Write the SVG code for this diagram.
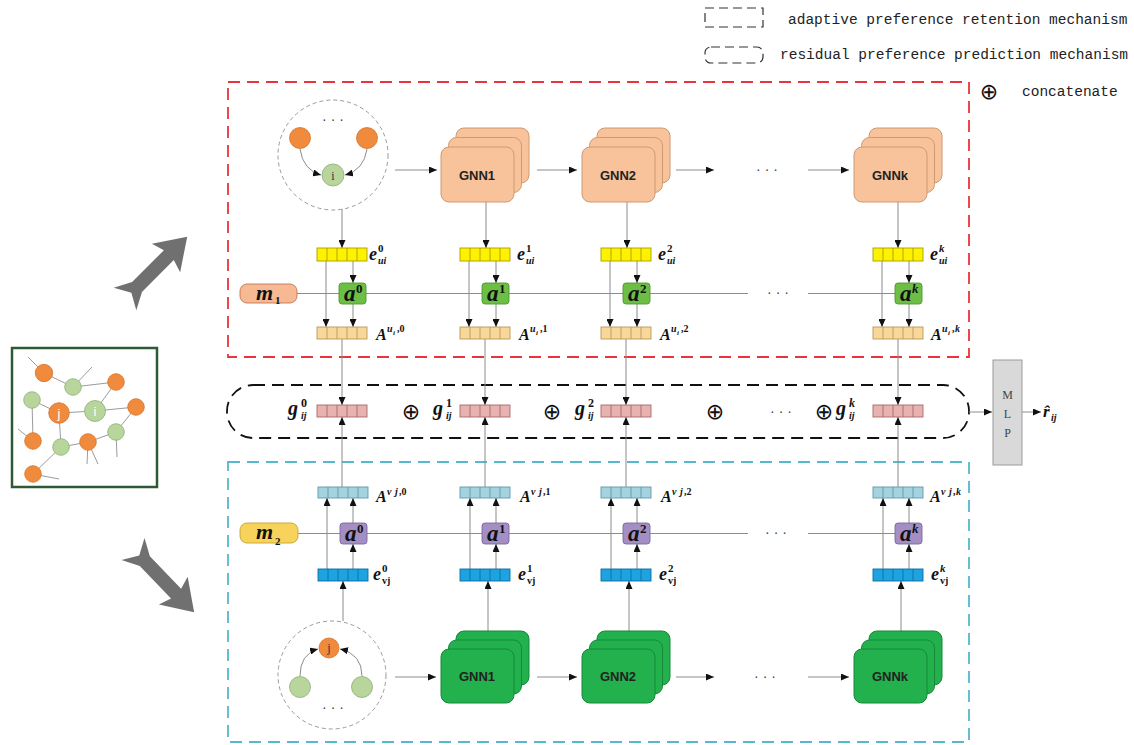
<svg xmlns="http://www.w3.org/2000/svg" width="1134" height="745" viewBox="0 0 1134 745">
<style>
.cn{fill:none;stroke:#8c8c8c;stroke-width:1}
.ar{marker-end:url(#ah)}
.dsh{fill:none;stroke-width:1.8;stroke-dasharray:12 7}
.leg{fill:none;stroke:#333;stroke-width:1.2;stroke-dasharray:9 5}
.lt{font-family:"Liberation Mono","Courier New",monospace;font-size:14.5px;fill:#222}
.op{font-family:"DejaVu Sans",sans-serif;font-size:22px;text-anchor:middle;fill:#111}
.dots{font-family:"Liberation Sans",Arial,sans-serif;font-size:14px;text-anchor:middle;fill:#444}
.mt{font-family:"Liberation Serif","Times New Roman",serif;font-weight:bold;font-style:italic;fill:#111;stroke:none}
.up{font-style:normal}
.vec rect{stroke-width:0.9}
.eu rect{fill:#FFF200}.eu{stroke:#A99C00}
.au rect{fill:#F7D79A}.au{stroke:#B99858}
.gg rect{fill:#E8B2B0}.gg{stroke:#A46C6A}
.av rect{fill:#A4D3DF}.av{stroke:#5E9AAA}
.ev rect{fill:#1DA3E2}.ev{stroke:#0D6E9E}
.aT{fill:#6CBE45;stroke:#4F9A2E;stroke-width:0.9}
.aB{fill:#A48FC4;stroke:#7A66A0;stroke-width:0.9}
.gT rect{fill:#F8C39B;stroke:#CE9A72;stroke-width:1}
.gB rect{fill:#22B14C;stroke:#15893A;stroke-width:1}
.gt{font-family:"Liberation Sans",Arial,sans-serif;font-weight:bold;font-size:13px;text-anchor:middle;fill:#222}
.on{fill:#F08A3C;stroke:#D6742A;stroke-width:0.8}
.gn{fill:#B8D59C;stroke:#8DAE76;stroke-width:0.8}
.nc{fill:none;stroke:#9a9a9a;stroke-width:1;stroke-dasharray:4 3}
.ge{stroke:#9c9c9c;stroke-width:1;fill:none}
.nl{font-family:"Liberation Serif",serif;font-size:12px;text-anchor:middle;fill:#333}
.wl{font-family:"Liberation Sans",Arial,sans-serif;font-size:13px;text-anchor:middle;fill:#fff}
.mlp{font-family:"Liberation Serif",serif;font-size:12px;text-anchor:middle;fill:#444}
</style>
<defs>
<marker id="ah" viewBox="0 0 8 7" refX="8" refY="3.5" markerWidth="8" markerHeight="7" markerUnits="userSpaceOnUse" orient="auto">
<path d="M0,0 L8,3.5 L0,7 Z" fill="#111"/>
</marker>
<path id="d13" d="M10 0v13M20 0v13M30 0v13M40 0v13" fill="none" stroke-width="0.9"/>
<path id="d12" d="M10 0v12M20 0v12M30 0v12M40 0v12" fill="none" stroke-width="0.9"/>
<path id="d11" d="M10 0v11M20 0v11M30 0v11M40 0v11" fill="none" stroke-width="0.9"/>
<path id="bigarr" d="M0,-16 L17,-7 L62,-7 L58,-20 L88,0 L58,20 L62,7 L17,7 L0,16 L9,0 Z" fill="#707070"/>
</defs>
<rect width="1134" height="745" fill="#fff"/>

<!-- legend -->
<g id="legend">
<rect class="leg" x="705" y="8" width="58" height="19"/>
<text class="lt" x="788" y="24">adaptive preference retention mechanism</text>
<rect class="leg" x="705" y="47" width="58" height="16" rx="6"/>
<text class="lt" x="780" y="59">residual preference prediction mechanism</text>
<text class="op" x="989" y="99" font-size="19">⊕</text>
<text class="lt" x="1022" y="96">concatenate</text>
</g>

<!-- mechanism frames -->
<rect id="user-frame" class="dsh" x="228" y="82" width="741" height="275" stroke="#E8343C"/>
<rect id="item-frame" class="dsh" x="228" y="462" width="741" height="280" stroke="#55B8CC"/>
<rect id="fusion-frame" class="dsh" x="227" y="385" width="742" height="53" rx="26" stroke="#111"/>

<!-- interaction graph -->
<g id="interaction-graph">
<rect x="12" y="348" width="145" height="139" fill="#fff" stroke="#2D5A35" stroke-width="2.5"/>
<path class="ge" d="M28,357L44,373M44,373L73,387M73,387L92,367M73,387L116,382M116,382L95,411M32,400L59,413M32,400L33,441M59,413L95,411M95,411L136,407M136,407L116,432M116,432L88,442M116,432L117,457M88,442L61,447M59,413L61,447M88,442L87,464M88,442L98,464M33,441L18,429M61,447L33,474M33,474L59,479"/>
<circle class="on" cx="44" cy="373" r="8.7"/>
<circle class="on" cx="116" cy="382" r="8.3"/>
<circle class="on" cx="136" cy="407" r="8.3"/>
<circle class="on" cx="33" cy="441" r="8.3"/>
<circle class="on" cx="88" cy="442" r="8.3"/>
<circle class="on" cx="33" cy="474" r="8.3"/>
<circle class="on" cx="59" cy="413" r="10.3"/>
<circle class="gn" cx="73" cy="387" r="8.3"/>
<circle class="gn" cx="32" cy="400" r="8.3"/>
<circle class="gn" cx="95" cy="411" r="10.5"/>
<circle class="gn" cx="116" cy="432" r="8.3"/>
<circle class="gn" cx="61" cy="447" r="8.3"/>
<text class="wl" x="59" y="418">j</text>
<text class="wl" x="95" y="416">i</text>
</g>

<!-- split arrows -->
<use id="to-user" href="#bigarr" transform="translate(125,299) rotate(-45)"/>
<use id="to-item" href="#bigarr" transform="translate(133,549) rotate(46)"/>

<!-- connectors -->
<g id="connectors">
<path class="cn ar" d="M395,170H437"/>
<path class="cn ar" d="M537,170H577"/>
<path class="cn ar" d="M676,170H714"/>
<path class="cn ar" d="M808,170H849"/>
<path class="cn ar" d="M395,677H436"/>
<path class="cn ar" d="M537,677H577"/>
<path class="cn ar" d="M676,677H714"/>
<path class="cn ar" d="M808,677H849"/>
<path class="cn" d="M297,293.5H748M808,293.5H895"/>
<path class="cn" d="M298,533.5H748M808,533.5H895"/>
<path class="cn ar" d="M342,209V248"/>
<path class="cn ar" d="M486,202V248"/>
<path class="cn ar" d="M627,202V248"/>
<path class="cn ar" d="M898,202V248"/>
<path class="cn ar" d="M326,261V327"/>
<path class="cn ar" d="M353,261V283"/>
<path class="cn ar" d="M353,304V327"/>
<path class="cn ar" d="M342,339V405"/>
<path class="cn ar" d="M469,261V327"/>
<path class="cn ar" d="M496,261V283"/>
<path class="cn ar" d="M496,304V327"/>
<path class="cn ar" d="M485,339V405"/>
<path class="cn ar" d="M610,261V327"/>
<path class="cn ar" d="M637,261V283"/>
<path class="cn ar" d="M637,304V327"/>
<path class="cn ar" d="M626,339V405"/>
<path class="cn ar" d="M882,261V327"/>
<path class="cn ar" d="M909,261V283"/>
<path class="cn ar" d="M909,304V327"/>
<path class="cn ar" d="M898,339V405"/>
<path class="cn ar" d="M343,621V581"/>
<path class="cn ar" d="M488,631V581"/>
<path class="cn ar" d="M629,631V581"/>
<path class="cn ar" d="M901,631V581"/>
<path class="cn ar" d="M327,569V498"/>
<path class="cn ar" d="M353,569V544"/>
<path class="cn ar" d="M353,523V498"/>
<path class="cn ar" d="M342,487V417"/>
<path class="cn ar" d="M470,569V498"/>
<path class="cn ar" d="M496,569V544"/>
<path class="cn ar" d="M496,523V498"/>
<path class="cn ar" d="M485,487V417"/>
<path class="cn ar" d="M611,569V498"/>
<path class="cn ar" d="M637,569V544"/>
<path class="cn ar" d="M637,523V498"/>
<path class="cn ar" d="M626,487V417"/>
<path class="cn ar" d="M883,569V498"/>
<path class="cn ar" d="M909,569V544"/>
<path class="cn ar" d="M909,523V498"/>
<path class="cn ar" d="M898,487V417"/>
<path class="cn ar" d="M969,412H992"/>
<path class="cn ar" d="M1022,412H1041"/>
</g>

<!-- row ellipses -->
<g id="ellipses">
<text class="dots" x="767" y="174">· · ·</text>
<text class="dots" x="778" y="297">· · ·</text>
<text class="dots" x="781" y="416">· · ·</text>
<text class="dots" x="776" y="537">· · ·</text>
<text class="dots" x="765" y="681">· · ·</text>
</g>

<!-- user neighbourhood -->
<g id="user-neighbourhood">
<circle class="nc" cx="333" cy="155" r="55"/>
<text class="dots" x="333" y="124">· · ·</text>
<circle class="on" cx="300" cy="138" r="10.5"/>
<circle class="on" cx="367" cy="138" r="10.5"/>
<path class="cn ar" d="M300,149 Q303,170 321,175"/>
<path class="cn ar" d="M367,149 Q364,170 345,175"/>
<circle class="gn" cx="333" cy="175" r="11"/>
<text class="nl" x="333" y="179.5">i</text>
</g>

<!-- item neighbourhood -->
<g id="item-neighbourhood">
<circle class="nc" cx="332" cy="675" r="54"/>
<circle class="gn" cx="300" cy="687" r="10.5"/>
<circle class="gn" cx="362" cy="687" r="10.5"/>
<path class="cn ar" d="M300,676 Q300,654 318,649"/>
<path class="cn ar" d="M362,676 Q362,654 340,649"/>
<circle class="on" cx="329" cy="648" r="10"/>
<text class="nl" x="329" y="652" font-size="13" fill="#222">j</text>
<text class="dots" x="333" y="712">· · ·</text>
</g>

<!-- user GNN layers -->
<g id="gnn1-u" class="gT">
<rect x="456" y="128" width="73" height="55" rx="8"/>
<rect x="448.5" y="137.5" width="73" height="55" rx="8"/>
<rect x="441" y="147" width="73" height="55" rx="8"/>
<text class="gt" x="477" y="179.5">GNN1</text>
</g>
<g id="gnn2-u" class="gT">
<rect x="597" y="128" width="73" height="55" rx="8"/>
<rect x="589.5" y="137.5" width="73" height="55" rx="8"/>
<rect x="582" y="147" width="73" height="55" rx="8"/>
<text class="gt" x="618" y="179.5">GNN2</text>
</g>
<g id="gnnk-u" class="gT">
<rect x="869" y="128" width="73" height="55" rx="8"/>
<rect x="861.5" y="137.5" width="73" height="55" rx="8"/>
<rect x="854" y="147" width="73" height="55" rx="8"/>
<text class="gt" x="890" y="179.5">GNNk</text>
</g>

<!-- item GNN layers -->
<g id="gnn1-v" class="gB">
<rect x="456" y="631" width="73" height="54" rx="8"/>
<rect x="448.5" y="640" width="73" height="54" rx="8"/>
<rect x="441" y="649" width="73" height="54" rx="8"/>
<text class="gt" x="477" y="681">GNN1</text>
</g>
<g id="gnn2-v" class="gB">
<rect x="597" y="631" width="73" height="54" rx="8"/>
<rect x="589.5" y="640" width="73" height="54" rx="8"/>
<rect x="582" y="649" width="73" height="54" rx="8"/>
<text class="gt" x="618" y="681">GNN2</text>
</g>
<g id="gnnk-v" class="gB">
<rect x="869" y="631" width="73" height="54" rx="8"/>
<rect x="861.5" y="640" width="73" height="54" rx="8"/>
<rect x="854" y="649" width="73" height="54" rx="8"/>
<text class="gt" x="890" y="681">GNNk</text>
</g>

<!-- memory tokens -->
<g id="m1">
<rect x="240" y="284" width="57" height="19" rx="7" fill="#F6B994" stroke="#C07850" stroke-width="0.9"/>
<text class="mt" font-size="22"><tspan x="256" y="300">m</tspan><tspan class="up" x="275" y="304" font-size="11">1</tspan></text>
</g>
<g id="m2">
<rect x="240" y="523" width="58" height="20" rx="7" fill="#F7D35C" stroke="#C8A030" stroke-width="0.9"/>
<text class="mt" font-size="22"><tspan x="256" y="539">m</tspan><tspan class="up" x="275" y="545" font-size="11">2</tspan></text>
</g>

<!-- user embeddings, column 0 -->
<g id="e-ui-0" class="vec eu"><rect x="317" y="248" width="50" height="13"/><use href="#d13" x="317" y="248"/>
<text class="mt" font-size="18"><tspan x="369" y="260">e</tspan><tspan class="up" x="378" y="252" font-size="11">0</tspan><tspan x="378" y="264" font-size="10">ui</tspan></text></g>
<g id="a-u-0"><rect class="aT" x="339" y="283" width="27" height="21" rx="3"/>
<text class="mt" font-size="23"><tspan x="344" y="301">a</tspan><tspan class="up" x="356" y="293" font-size="13">0</tspan></text></g>
<g id="A-u-0" class="vec au"><rect x="317" y="327" width="50" height="12"/><use href="#d12" x="317" y="327"/>
<text class="mt" font-size="16"><tspan x="376" y="340">A</tspan><tspan x="387" y="332" font-size="10">u</tspan><tspan x="393" y="335" font-size="7">i</tspan><tspan class="up" x="397" y="332" font-size="10">,0</tspan></text></g>

<!-- user embeddings, column 1 -->
<g id="e-ui-1" class="vec eu"><rect x="460" y="248" width="50" height="13"/><use href="#d13" x="460" y="248"/>
<text class="mt" font-size="18"><tspan x="517" y="260">e</tspan><tspan class="up" x="526" y="252" font-size="11">1</tspan><tspan x="526" y="264" font-size="10">ui</tspan></text></g>
<g id="a-u-1"><rect class="aT" x="482" y="283" width="27" height="21" rx="3"/>
<text class="mt" font-size="23"><tspan x="487" y="301">a</tspan><tspan class="up" x="499" y="293" font-size="13">1</tspan></text></g>
<g id="A-u-1" class="vec au"><rect x="460" y="327" width="50" height="12"/><use href="#d12" x="460" y="327"/>
<text class="mt" font-size="16"><tspan x="519" y="340">A</tspan><tspan x="530" y="332" font-size="10">u</tspan><tspan x="536" y="335" font-size="7">i</tspan><tspan class="up" x="540" y="332" font-size="10">,1</tspan></text></g>

<!-- user embeddings, column 2 -->
<g id="e-ui-2" class="vec eu"><rect x="601" y="248" width="50" height="13"/><use href="#d13" x="601" y="248"/>
<text class="mt" font-size="18"><tspan x="658" y="260">e</tspan><tspan class="up" x="667" y="252" font-size="11">2</tspan><tspan x="667" y="264" font-size="10">ui</tspan></text></g>
<g id="a-u-2"><rect class="aT" x="623" y="283" width="27" height="21" rx="3"/>
<text class="mt" font-size="23"><tspan x="628" y="301">a</tspan><tspan class="up" x="640" y="293" font-size="13">2</tspan></text></g>
<g id="A-u-2" class="vec au"><rect x="601" y="327" width="50" height="12"/><use href="#d12" x="601" y="327"/>
<text class="mt" font-size="16"><tspan x="660" y="340">A</tspan><tspan x="671" y="332" font-size="10">u</tspan><tspan x="677" y="335" font-size="7">i</tspan><tspan class="up" x="681" y="332" font-size="10">,2</tspan></text></g>

<!-- user embeddings, column k -->
<g id="e-ui-k" class="vec eu"><rect x="873" y="248" width="50" height="13"/><use href="#d13" x="873" y="248"/>
<text class="mt" font-size="18"><tspan x="930" y="260">e</tspan><tspan x="939" y="252" font-size="11">k</tspan><tspan x="939" y="264" font-size="10">ui</tspan></text></g>
<g id="a-u-k"><rect class="aT" x="895" y="283" width="27" height="21" rx="3"/>
<text class="mt" font-size="23"><tspan x="900" y="301">a</tspan><tspan x="912" y="293" font-size="13">k</tspan></text></g>
<g id="A-u-k" class="vec au"><rect x="873" y="327" width="50" height="12"/><use href="#d12" x="873" y="327"/>
<text class="mt" font-size="16"><tspan x="931" y="340">A</tspan><tspan x="942" y="332" font-size="10">u</tspan><tspan x="948" y="335" font-size="7">i</tspan><tspan class="up" x="952" y="332" font-size="10">,</tspan><tspan x="955" y="332" font-size="10">k</tspan></text></g>

<!-- fused vectors -->
<g id="g-0" class="vec gg"><rect x="317" y="405" width="50" height="12"/><use href="#d12" x="317" y="405"/>
<text class="mt" font-size="20"><tspan x="288" y="415">g</tspan><tspan class="up" x="301" y="407" font-size="12">0</tspan><tspan x="301" y="419" font-size="10">ij</tspan></text></g>
<text class="op" x="411" y="419">⊕</text>
<g id="g-1" class="vec gg"><rect x="460" y="405" width="50" height="12"/><use href="#d12" x="460" y="405"/>
<text class="mt" font-size="20"><tspan x="433" y="415">g</tspan><tspan class="up" x="446" y="407" font-size="12">1</tspan><tspan x="446" y="419" font-size="10">ij</tspan></text></g>
<text class="op" x="552" y="419">⊕</text>
<g id="g-2" class="vec gg"><rect x="601" y="405" width="50" height="12"/><use href="#d12" x="601" y="405"/>
<text class="mt" font-size="20"><tspan x="575" y="415">g</tspan><tspan class="up" x="588" y="407" font-size="12">2</tspan><tspan x="588" y="419" font-size="10">ij</tspan></text></g>
<text class="op" x="715" y="419">⊕</text>
<text class="op" x="824" y="419">⊕</text>
<g id="g-k" class="vec gg"><rect x="873" y="405" width="50" height="12"/><use href="#d12" x="873" y="405"/>
<text class="mt" font-size="20"><tspan x="836" y="415">g</tspan><tspan x="849" y="407" font-size="12">k</tspan><tspan x="849" y="419" font-size="10">ij</tspan></text></g>

<!-- item embeddings, column 0 -->
<g id="A-v-0" class="vec av"><rect x="318" y="487" width="50" height="11"/><use href="#d11" x="318" y="487"/>
<text class="mt" font-size="16"><tspan x="376" y="502">A</tspan><tspan x="387" y="495" font-size="10">v</tspan><tspan x="395" y="495" font-size="10">j</tspan><tspan class="up" x="399" y="495" font-size="10">,0</tspan></text></g>
<g id="a-v-0"><rect class="aB" x="340" y="523" width="27" height="21" rx="3"/>
<text class="mt" font-size="23"><tspan x="345" y="541">a</tspan><tspan class="up" x="357" y="533" font-size="13">0</tspan></text></g>
<g id="e-vj-0" class="vec ev"><rect x="318" y="569" width="50" height="12"/><use href="#d12" x="318" y="569"/>
<text class="mt" font-size="18"><tspan x="373" y="580">e</tspan><tspan class="up" x="382" y="572" font-size="11">0</tspan><tspan class="up" x="382" y="584" font-size="10">vj</tspan></text></g>

<!-- item embeddings, column 1 -->
<g id="A-v-1" class="vec av"><rect x="460" y="487" width="50" height="11"/><use href="#d11" x="460" y="487"/>
<text class="mt" font-size="16"><tspan x="520" y="502">A</tspan><tspan x="531" y="495" font-size="10">v</tspan><tspan x="539" y="495" font-size="10">j</tspan><tspan class="up" x="543" y="495" font-size="10">,1</tspan></text></g>
<g id="a-v-1"><rect class="aB" x="482" y="523" width="27" height="21" rx="3"/>
<text class="mt" font-size="23"><tspan x="487" y="541">a</tspan><tspan class="up" x="499" y="533" font-size="13">1</tspan></text></g>
<g id="e-vj-1" class="vec ev"><rect x="460" y="569" width="50" height="12"/><use href="#d12" x="460" y="569"/>
<text class="mt" font-size="18"><tspan x="518" y="580">e</tspan><tspan class="up" x="527" y="572" font-size="11">1</tspan><tspan class="up" x="527" y="584" font-size="10">vj</tspan></text></g>

<!-- item embeddings, column 2 -->
<g id="A-v-2" class="vec av"><rect x="601" y="487" width="50" height="11"/><use href="#d11" x="601" y="487"/>
<text class="mt" font-size="16"><tspan x="661" y="502">A</tspan><tspan x="672" y="495" font-size="10">v</tspan><tspan x="680" y="495" font-size="10">j</tspan><tspan class="up" x="684" y="495" font-size="10">,2</tspan></text></g>
<g id="a-v-2"><rect class="aB" x="623" y="523" width="27" height="21" rx="3"/>
<text class="mt" font-size="23"><tspan x="628" y="541">a</tspan><tspan class="up" x="640" y="533" font-size="13">2</tspan></text></g>
<g id="e-vj-2" class="vec ev"><rect x="601" y="569" width="50" height="12"/><use href="#d12" x="601" y="569"/>
<text class="mt" font-size="18"><tspan x="659" y="580">e</tspan><tspan class="up" x="668" y="572" font-size="11">2</tspan><tspan class="up" x="668" y="584" font-size="10">vj</tspan></text></g>

<!-- item embeddings, column k -->
<g id="A-v-k" class="vec av"><rect x="873" y="487" width="50" height="11"/><use href="#d11" x="873" y="487"/>
<text class="mt" font-size="16"><tspan x="930" y="502">A</tspan><tspan x="941" y="495" font-size="10">v</tspan><tspan x="949" y="495" font-size="10">j</tspan><tspan class="up" x="953" y="495" font-size="10">,</tspan><tspan x="956" y="495" font-size="10">k</tspan></text></g>
<g id="a-v-k"><rect class="aB" x="895" y="523" width="27" height="21" rx="3"/>
<text class="mt" font-size="23"><tspan x="900" y="541">a</tspan><tspan x="912" y="533" font-size="13">k</tspan></text></g>
<g id="e-vj-k" class="vec ev"><rect x="873" y="569" width="50" height="12"/><use href="#d12" x="873" y="569"/>
<text class="mt" font-size="18"><tspan x="931" y="580">e</tspan><tspan x="940" y="572" font-size="11">k</tspan><tspan class="up" x="940" y="584" font-size="10">vj</tspan></text></g>

<!-- prediction head -->
<g id="mlp">
<rect x="993" y="360" width="29" height="105" fill="#D9D9D9" stroke="#9a9a9a" stroke-width="1"/>
<text class="mlp" x="1007.5" y="399">M</text>
<text class="mlp" x="1007.5" y="418">L</text>
<text class="mlp" x="1007.5" y="437">P</text>
</g>
<g id="r-hat">
<text class="mt" font-size="17"><tspan x="1043" y="417">r̂</tspan><tspan x="1051" y="421" font-size="10">ij</tspan></text>
</g>
</svg>
